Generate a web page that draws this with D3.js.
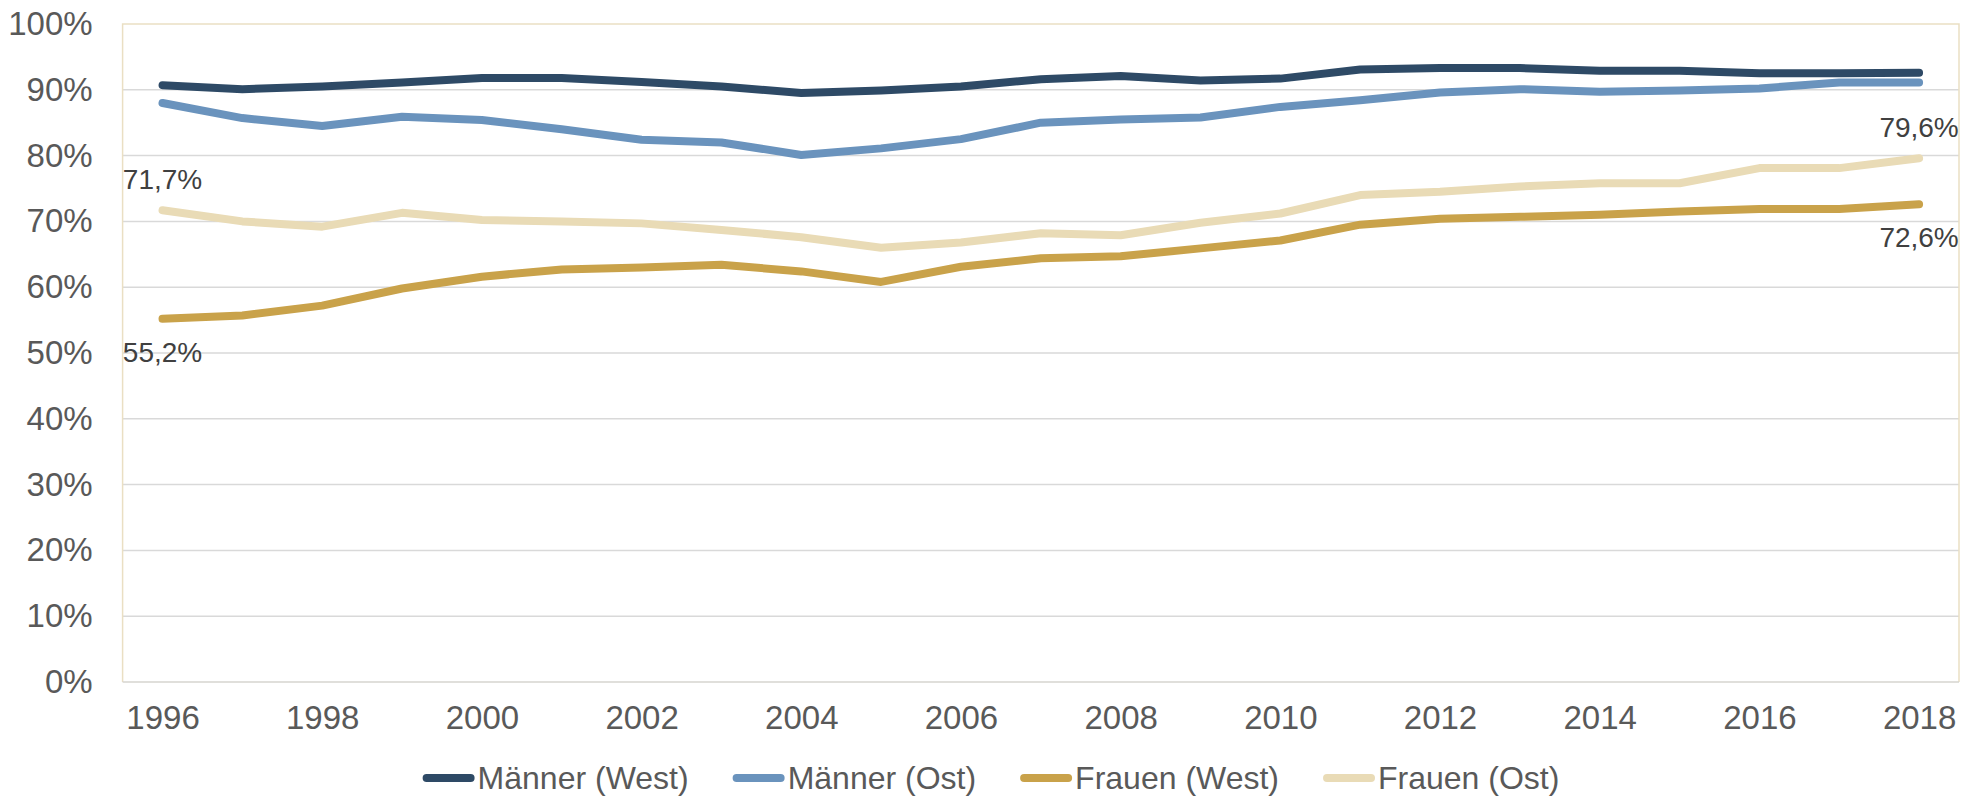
<!DOCTYPE html>
<html><head><meta charset="utf-8">
<script src="https://cdn.jsdelivr.net/npm/d3@7"></script>
<style>html,body{margin:0;padding:0;background:#fff;}svg{display:block;}</style>
</head><body>
<svg id="chart" width="1982" height="797"></svg>
<script>
const years = [1996,1997,1998,1999,2000,2001,2002,2003,2004,2005,2006,2007,2008,2009,2010,2011,2012,2013,2014,2015,2016,2017,2018];
const maennerWest = [90.7,90.1,90.5,91.1,91.8,91.8,91.2,90.5,89.5,89.9,90.5,91.6,92.1,91.4,91.7,93.1,93.3,93.3,92.9,92.9,92.5,92.5,92.6];
const maennerOst  = [88.0,85.7,84.5,85.9,85.4,84.0,82.4,82.0,80.1,81.1,82.5,85.0,85.5,85.8,87.4,88.4,89.6,90.1,89.7,89.9,90.2,91.1,91.1];
const frauenWest  = [55.2,55.7,57.2,59.8,61.6,62.7,63.0,63.4,62.4,60.8,63.1,64.4,64.7,65.9,67.1,69.5,70.4,70.7,71.0,71.5,71.9,71.9,72.6];
const frauenOst   = [71.7,70.0,69.2,71.3,70.2,70.0,69.7,68.7,67.6,66.0,66.8,68.2,67.9,69.8,71.2,74.0,74.5,75.3,75.8,75.8,78.1,78.1,79.6];
const seriesNames = ["Männer (West)","Männer (Ost)","Frauen (West)","Frauen (Ost)"];
const seriesColors = ["#2e4a66","#6a93bd","#c9a24a","#e9dbb6"];
const yTicks = [0,10,20,30,40,50,60,70,80,90,100];
const xTickYears = [1996,1998,2000,2002,2004,2006,2008,2010,2012,2014,2016,2018];
// labelled points: [seriesIndex, yearIndex, position]
const dataLabels = [[3,0,"above"],[2,0,"below"],[3,22,"above"],[2,22,"below"]];

const seriesData = [maennerWest, maennerOst, frauenWest, frauenOst];
const fmt = v => v.toFixed(1).replace(".", ",") + "%";

const svg = d3.select("#chart");
const L = 122.6, R = 1959, T = 24, B = 682;
const x = d3.scalePoint().domain(years).range([L, R]).padding(0.5);
const y = d3.scaleLinear().domain([0, 100]).range([B, T]);
const font = "'Liberation Sans', Arial, sans-serif";

// gridlines
svg.append("g").selectAll("line").data(yTicks.filter(t => t > 0 && t < 100)).join("line")
  .attr("x1", L).attr("x2", R).attr("y1", d => y(d)).attr("y2", d => y(d))
  .attr("stroke", "#d9d9d9").attr("stroke-width", 1.5);

// plot border (top/left/right beige)
svg.append("path")
  .attr("d", `M${L},${B}V${T}H${R}V${B}`)
  .attr("fill", "none").attr("stroke", "#eadfc3").attr("stroke-width", 1.5);
// bottom axis line
svg.append("line").attr("x1", L).attr("x2", R).attr("y1", B).attr("y2", B)
  .attr("stroke", "#d6d4cf").attr("stroke-width", 1.5);

// y axis labels
const yAxis = d3.axisLeft(y).tickValues(yTicks).tickFormat(d => d + "%").tickSize(0).tickPadding(30);
const gy = svg.append("g").attr("transform", `translate(${L},0)`).call(yAxis);
gy.select(".domain").remove();
gy.selectAll("text").attr("font-family", font).attr("font-size", 33).attr("fill", "#595959");

// x axis labels
const xAxis = d3.axisBottom(x).tickValues(xTickYears).tickSize(0).tickPadding(24);
const gx = svg.append("g").attr("transform", `translate(0,${B})`).call(xAxis);
gx.select(".domain").remove();
gx.selectAll("text").attr("font-family", font).attr("font-size", 33).attr("fill", "#595959");

// lines
const line = d3.line().x((d, i) => x(years[i])).y(d => y(d));
svg.append("g").selectAll("path").data(seriesData).join("path")
  .attr("d", d => line(d))
  .attr("fill", "none")
  .attr("stroke", (d, i) => seriesColors[i])
  .attr("stroke-width", 8)
  .attr("stroke-linecap", "round")
  .attr("stroke-linejoin", "round");

// data labels
svg.append("g").selectAll("text").data(dataLabels).join("text")
  .attr("x", d => x(years[d[1]]))
  .attr("y", d => y(seriesData[d[0]][d[1]]) + (d[2] === "above" ? -21 : 43))
  .attr("text-anchor", "middle")
  .attr("font-family", font).attr("font-size", 28).attr("fill", "#404040")
  .text(d => fmt(seriesData[d[0]][d[1]]));

// legend
const lg = svg.append("g");
const items = lg.selectAll("g").data(seriesNames).join("g");
items.append("line").attr("x1", 4).attr("x2", 48).attr("y1", 0).attr("y2", 0)
  .attr("stroke", (d, i) => seriesColors[i]).attr("stroke-width", 8).attr("stroke-linecap", "round");
items.append("text").attr("x", 55).attr("y", 11)
  .attr("font-family", font).attr("font-size", 32).attr("fill", "#595959").text(d => d);
const widths = [];
items.each(function() {
  const w = 55 + d3.select(this).select("text").node().getComputedTextLength();
  widths.push(w);
});
const gap = 44;
const total = d3.sum(widths) + gap * (widths.length - 1);
let start = 1982 / 2 - total / 2;
items.attr("transform", (d, i) => {
  const t = `translate(${start},778)`;
  start += widths[i] + gap;
  return t;
});
</script>
</body></html>
